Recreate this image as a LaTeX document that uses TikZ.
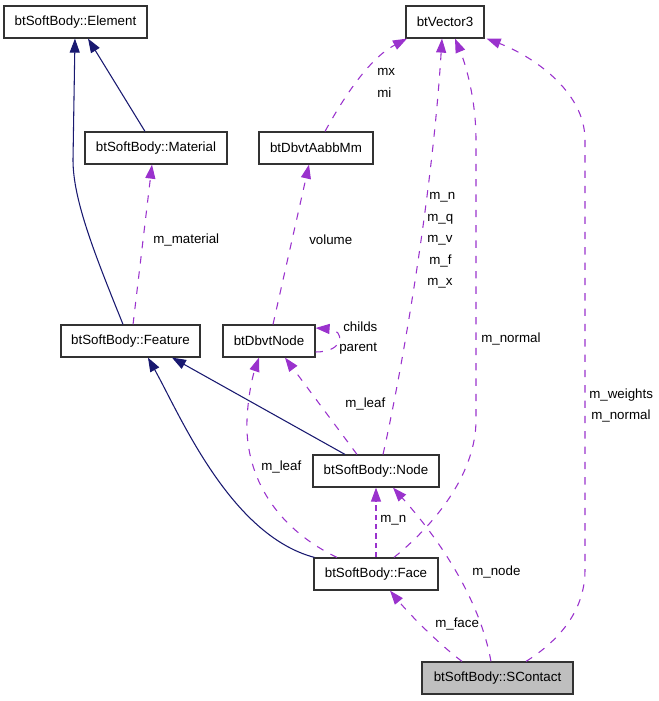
\documentclass[tikz,border=0pt]{standalone}
\usepackage{fontspec}
\setmainfont{Liberation Sans}
\usetikzlibrary{arrows.meta}
\definecolor{inh}{RGB}{25,25,112}
\definecolor{use}{RGB}{154,50,205}
\definecolor{bord}{RGB}{50,50,50}
\begin{document}
\begin{tikzpicture}[x=0.75pt,y=-0.75pt,font=\fontsize{10}{12}\selectfont,
  cls/.style={draw=bord,line width=0.9pt,fill=white,inner sep=0pt,minimum height=24pt},
  inhedge/.style={draw=inh,line width=0.8pt,-{Triangle[length=10.5pt,width=7.5pt]}},
  useedge/.style={draw=use,line width=0.8pt,dash pattern=on 5.5pt off 6pt,-{Triangle[length=10.5pt,width=7.5pt]}},
  lbl/.style={anchor=west,inner sep=0pt}]
\useasboundingbox (0,0) rectangle (659,701);
% classes
\node[cls,minimum width=107.25pt] (element) at (75.5,22) {btSoftBody::Element};
\node[cls,minimum width=106.5pt] (material) at (156,148) {btSoftBody::Material};
\node[cls,minimum width=104.25pt] (feature) at (130.5,341) {btSoftBody::Feature};
\node[cls,minimum width=69pt] (dbvt) at (269,341) {btDbvtNode};
\node[cls,minimum width=58.5pt] (vec) at (445,22) {btVector3};
\node[cls,minimum width=85.5pt] (aabb) at (316,148) {btDbvtAabbMm};
\node[cls,minimum width=94.5pt] (snode) at (376,471) {btSoftBody::Node};
\node[cls,minimum width=93pt] (face) at (376,574) {btSoftBody::Face};
\node[cls,minimum width=113.25pt,fill=gray!50] (sc) at (497.5,678) {btSoftBody::SContact};
% inheritance
\draw[inhedge] ([xshift=-5.6pt]feature.north) .. controls (95,255) and (73,200) .. (73,160) -- ([xshift=-0.4pt]element.south);
\draw[inhedge] ([xshift=-8.25pt]material.north) -- ([xshift=9.4pt]element.south);
\draw[inhedge] ([xshift=-23.25pt]snode.north) -- ([xshift=31.1pt]feature.south);
\draw[inhedge] ([xshift=0.75pt]face.north west) .. controls (230,535) and (180,415) .. ([xshift=13.1pt]feature.south);
% usage
\draw[useedge] ([xshift=1.9pt]feature.north) -- ([xshift=-3pt]material.south);
\node[lbl] (l1) at (153,240) {m\_material};
\draw[useedge] ([xshift=3pt]dbvt.north) -- ([xshift=-5.25pt]aabb.south);
\node[lbl] (l2) at (309,240) {volume};
\draw[useedge] ([xshift=6.75pt]aabb.north) .. controls (345,95) and (370,58) .. ([xshift=-28.5pt]vec.south);
\node[lbl] (l3) at (377,72) {mx};
\node[lbl] (l4) at (377,93) {mi};
\draw[useedge] ([yshift=-8.25pt]dbvt.east) .. controls (345,352) and (345,330) .. ([yshift=9.75pt]dbvt.east);
\node[lbl] (l5) at (343,327) {childs};
\node[lbl] (l6) at (339,349) {parent};
\draw[useedge] ([xshift=5.25pt]snode.north) .. controls (400,380) and (432,200) .. ([xshift=-2.25pt]vec.south);
\node[lbl] (l7) at (429,197) {m\_n};
\node[lbl] (l8) at (427,219) {m\_q};
\node[lbl] (l9) at (427,240) {m\_v};
\node[lbl] (l10) at (429,261) {m\_f};
\node[lbl] (l11) at (427,283) {m\_x};
\draw[useedge] ([xshift=13.5pt]face.north) .. controls (440,520) and (476,470) .. (476,420) -- (476,140) .. controls (476,100) and (466,65) .. ([xshift=7.5pt]vec.south);
\node[lbl] (l12) at (481,339) {m\_normal};
\draw[useedge] ([xshift=21.4pt]sc.north) .. controls (560,640) and (585,610) .. (585,570) -- (585,140) .. controls (585,90) and (530,55) .. ([xshift=1.5pt]vec.south east);
\node[lbl] (l13) at (589,395) {m\_weights};
\node[lbl] (l14) at (591,416) {m\_normal};
\draw[useedge] ([xshift=-14.25pt]snode.north) -- ([xshift=12pt]dbvt.south);
\node[lbl] (l15) at (345,404) {m\_leaf};
\draw[useedge] ([xshift=-29.25pt]face.north) .. controls (270,525) and (245,470) .. (247,420) .. controls (248,395) and (253,375) .. ([xshift=-7.5pt]dbvt.south);
\node[lbl] (l16) at (261,467) {m\_leaf};
\draw[useedge,dash pattern=on 4pt off 3pt] (face.north) -- (snode.south);
\node[lbl] (l17) at (380,520) {m\_n};
\draw[useedge] ([xshift=-26.6pt]sc.north) .. controls (440,645) and (410,615) .. ([xshift=10.5pt]face.south);
\node[lbl] (l18) at (435,624) {m\_face};
\draw[useedge] ([xshift=-4.9pt]sc.north) .. controls (480,600) and (440,540) .. ([xshift=12.75pt]snode.south);
\node[lbl] (l19) at (472,572) {m\_node};
\end{tikzpicture}
\end{document}
